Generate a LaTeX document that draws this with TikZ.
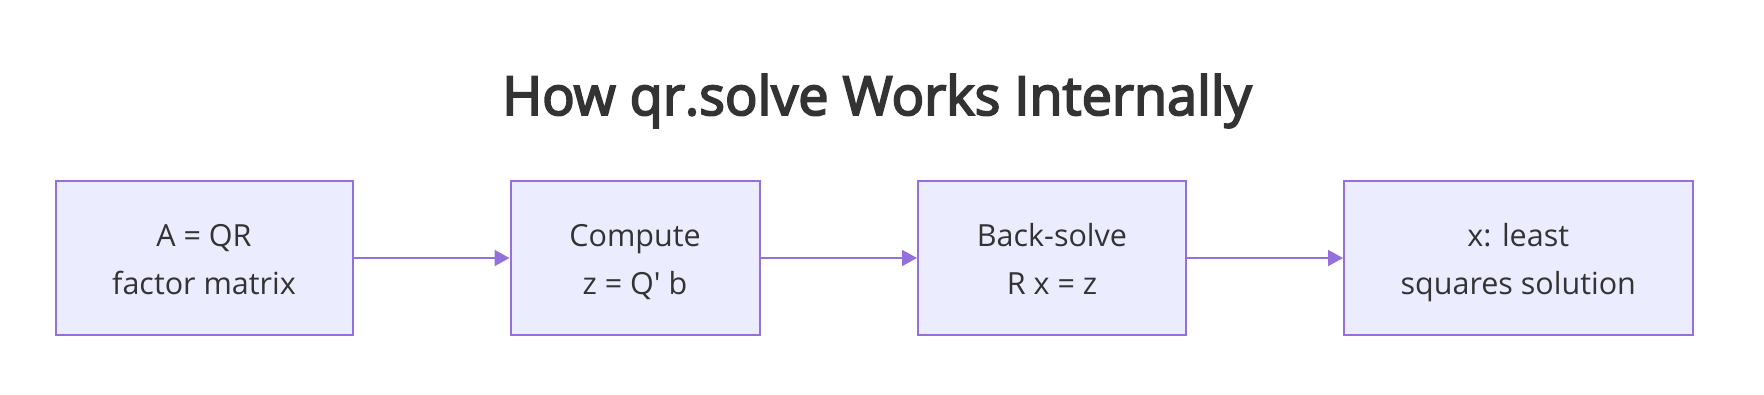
\documentclass[tikz,border=0pt]{standalone}
\usepackage{fontspec}
\setmainfont{Open Sans}
\newfontfamily\titlefont{Open Sans}[FakeBold=3.5]
\usetikzlibrary{arrows.meta}
\definecolor{boxfill}{HTML}{ECECFF}
\definecolor{boxline}{HTML}{9370DB}
\definecolor{txt}{HTML}{333333}
\tikzset{
  stepbox/.style={draw=boxline, fill=boxfill, line width=2pt, inner sep=0pt,
    minimum height=154pt, align=center, text=txt,
    font=\fontsize{30.5}{48}\selectfont},
  flow/.style={draw=boxline, line width=2pt, -{Triangle[length=15pt,width=16pt]}},
  titletext/.style={text=txt, font=\titlefont\fontsize{54}{60}\selectfont, inner sep=0pt}
}
\newcommand{\toprule}{\rule{0pt}{34pt}}
\newcommand{\botrule}{\rule[-10pt]{0pt}{10pt}}
\begin{document}
\begin{tikzpicture}[x=1pt,y=-1pt]
\useasboundingbox (0,0) rectangle (1764,394);
\node[titletext, anchor=base] (title) at (877,115) {How qr.solve Works Internally};
\node[stepbox, minimum width=297pt] (a) at (204,258) {\toprule A = QR\\factor matrix\botrule};
\node[stepbox, minimum width=249pt] (b) at (635,258) {\toprule Compute\\z = Q\textquotesingle{} b\botrule};
\node[stepbox, minimum width=268pt] (c) at (1052,258) {\toprule Back-solve\\R x = z\botrule};
\node[stepbox, minimum width=348.5pt] (d) at (1518.25,258) {\toprule x: least\\squares solution\botrule};
\draw[flow] (a) -- (b);
\draw[flow] (b) -- (c);
\draw[flow] (c) -- (d);
\end{tikzpicture}
\end{document}
